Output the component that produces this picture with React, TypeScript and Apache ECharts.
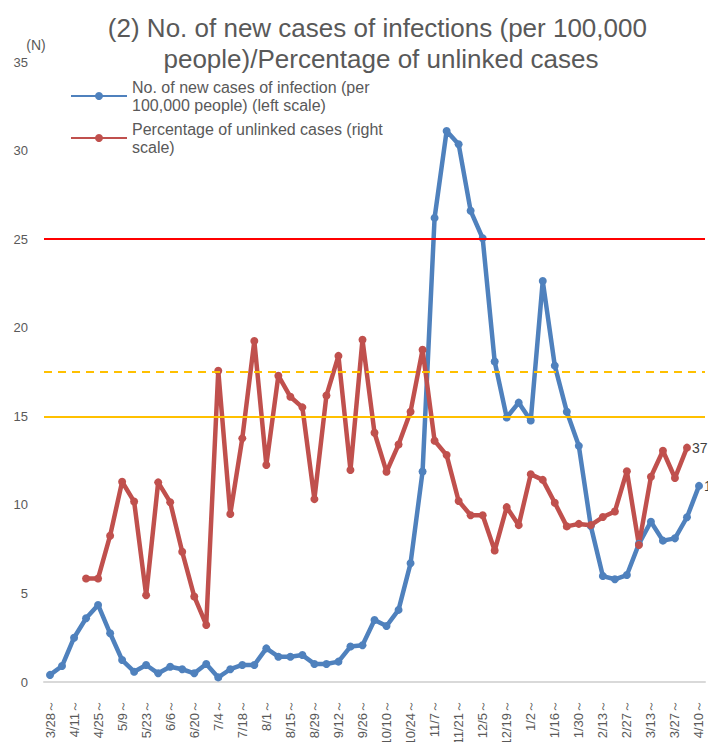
import React, { useEffect, useRef } from "react";
import * as echarts from "echarts";

const weeks = [
  "3/28", "4/4", "4/11", "4/18", "4/25", "5/2", "5/9", "5/16", "5/23", "5/30",
  "6/6", "6/13", "6/20", "6/27", "7/4", "7/11", "7/18", "7/25", "8/1", "8/8",
  "8/15", "8/22", "8/29", "9/5", "9/12", "9/19", "9/26", "10/3", "10/10", "10/17",
  "10/24", "10/31", "11/7", "11/14", "11/21", "11/28", "12/5", "12/12", "12/19", "12/26",
  "1/2", "1/9", "1/16", "1/23", "1/30", "2/6", "2/13", "2/20", "2/27", "3/6",
  "3/13", "3/20", "3/27", "4/3", "4/10",
];

const newCases = [
  0.4, 0.9, 2.5, 3.6, 4.35, 2.75, 1.24, 0.58, 0.96, 0.49,
  0.86, 0.72, 0.49, 1.02, 0.26, 0.72, 0.96, 0.96, 1.9, 1.43,
  1.43, 1.52, 1.02, 1.02, 1.15, 2.0, 2.07, 3.5, 3.16, 4.07,
  6.7, 11.88, 26.2, 31.1, 30.36, 26.6, 25.05, 18.09, 14.93, 15.77,
  14.76, 22.64, 17.86, 15.26, 13.33, 8.8, 5.98, 5.8, 6.04, 7.8,
  9.05, 7.98, 8.11, 9.3, 11.07,
];

const unlinkedPct = [
  null, null, null, 16.7, 16.7, 23.6, 32.3, 29.1, 14.0, 32.2,
  29.0, 21.0, 13.8, 9.2, 50.2, 27.1, 39.3, 55.0, 35.0, 49.4,
  46.0, 44.3, 29.5, 46.2, 52.6, 34.2, 55.2, 40.2, 33.9, 38.3,
  43.6, 53.6, 38.9, 36.6, 29.2, 26.9, 26.9, 21.2, 28.2, 25.3,
  33.5, 32.6, 28.9, 25.1, 25.5, 25.3, 26.6, 27.5, 34.0, 22.1,
  33.1, 37.3, 32.9, 37.8, null,
];

const leftAxis = { min: 0, max: 35, interval: 5 };
const rightAxis = { min: 0, max: 100 };
const thresholdsLeft = [25, 15];
const thresholdRight = 50;

const NAME_CASES = "No. of new cases of infection (per\n100,000 people) (left scale)";
const NAME_UNLINKED = "Percentage of unlinked cases (right\nscale)";
const TITLE = "(2) No. of new cases of infections (per 100,000 \npeople)/Percentage of unlinked cases";

const FONT = "'Liberation Sans', Arial, sans-serif";
const GREY = "#595959";

function withLastLabel(arr: (number | null)[]) {
  let last = -1;
  arr.forEach((v, i) => {
    if (v !== null) last = i;
  });
  return arr.map((v, i) =>
    i === last ? { value: v, label: { show: true } } : v
  );
}

export default function App() {
  const ref = useRef<HTMLDivElement>(null);
  useEffect(() => {
    if (!ref.current) return;
    const chart = echarts.init(ref.current, null, { renderer: "svg" });
    chart.setOption({
      animation: false,
      backgroundColor: "#ffffff",
      title: {
        text: TITLE,
        left: 376,
        top: 7,
        textAlign: "center",
        textStyle: {
          fontFamily: FONT,
          fontSize: 26,
          fontWeight: "normal",
          color: GREY,
          lineHeight: 31,
        },
      },
      legend: {
        orient: "vertical",
        left: 70,
        top: 78,
        padding: 0,
        itemWidth: 56,
        itemHeight: 10,
        itemGap: 6,
        textStyle: { fontFamily: FONT, fontSize: 16, lineHeight: 18, color: GREY },
        data: [NAME_CASES, NAME_UNLINKED],
      },
      grid: {
        left: 44,
        right: 3,
        top: 62,
        bottom: 60,
        containLabel: false,
        outerBoundsMode: "none",
      },
      xAxis: {
        type: "category",
        data: weeks.map((w) => w + "～"),
        boundaryGap: true,
        axisLine: { lineStyle: { color: "#d9d9d9", width: 2 } },
        axisTick: { show: false },
        axisLabel: {
          interval: 1,
          rotate: 90,
          margin: 18,
          fontFamily: FONT,
          fontSize: 13,
          color: GREY,
        },
      },
      yAxis: [
        {
          type: "value",
          min: leftAxis.min,
          max: leftAxis.max,
          interval: leftAxis.interval,
          name: "(N)",
          nameLocation: "end",
          nameGap: 10,
          nameTextStyle: {
            fontFamily: FONT,
            fontSize: 14,
            color: GREY,
            padding: [0, 16, 0, 0],
          },
          axisLine: { show: false },
          axisTick: { show: false },
          splitLine: { show: false },
          axisLabel: { fontFamily: FONT, fontSize: 13, color: GREY, margin: 16 },
        },
        {
          type: "value",
          min: rightAxis.min,
          max: rightAxis.max,
          show: false,
          splitLine: { show: false },
        },
      ],
      series: [
        {
          name: NAME_CASES,
          type: "line",
          yAxisIndex: 0,
          data: withLastLabel(newCases),
          color: "#4f81bd",
          lineStyle: { width: 4.5, color: "#4f81bd" },
          symbol: "circle",
          symbolSize: 8,
          itemStyle: { color: "#4f81bd" },
          label: {
            show: false,
            position: "right",
            distance: 1,
            fontFamily: FONT,
            fontSize: 14,
            color: "#404040",
            formatter: (p: any) => Number(p.value).toFixed(1),
          },
          markLine: {
            silent: true,
            symbol: "none",
            label: { show: false },
            data: [
              { yAxis: thresholdsLeft[0], lineStyle: { color: "#ff0000", width: 2, type: "solid" } },
              { yAxis: thresholdsLeft[1], lineStyle: { color: "#ffc000", width: 2, type: "solid" } },
            ],
          },
        },
        {
          name: NAME_UNLINKED,
          type: "line",
          yAxisIndex: 1,
          data: withLastLabel(unlinkedPct),
          color: "#c0504d",
          lineStyle: { width: 4.5, color: "#c0504d" },
          symbol: "circle",
          symbolSize: 8,
          itemStyle: { color: "#c0504d" },
          label: {
            show: false,
            position: "right",
            distance: 1,
            fontFamily: FONT,
            fontSize: 14,
            color: "#404040",
            formatter: (p: any) => Number(p.value).toFixed(1),
          },
          markLine: {
            silent: true,
            symbol: "none",
            label: { show: false },
            data: [
              { yAxis: thresholdRight, lineStyle: { color: "#ffc000", width: 2, type: [8, 6] } },
            ],
          },
        },
      ],
    });
    return () => chart.dispose();
  }, []);
  return (
    <div
      ref={ref}
      style={{ position: "absolute", left: 0, top: 0, width: 708, height: 742 }}
    />
  );
}
